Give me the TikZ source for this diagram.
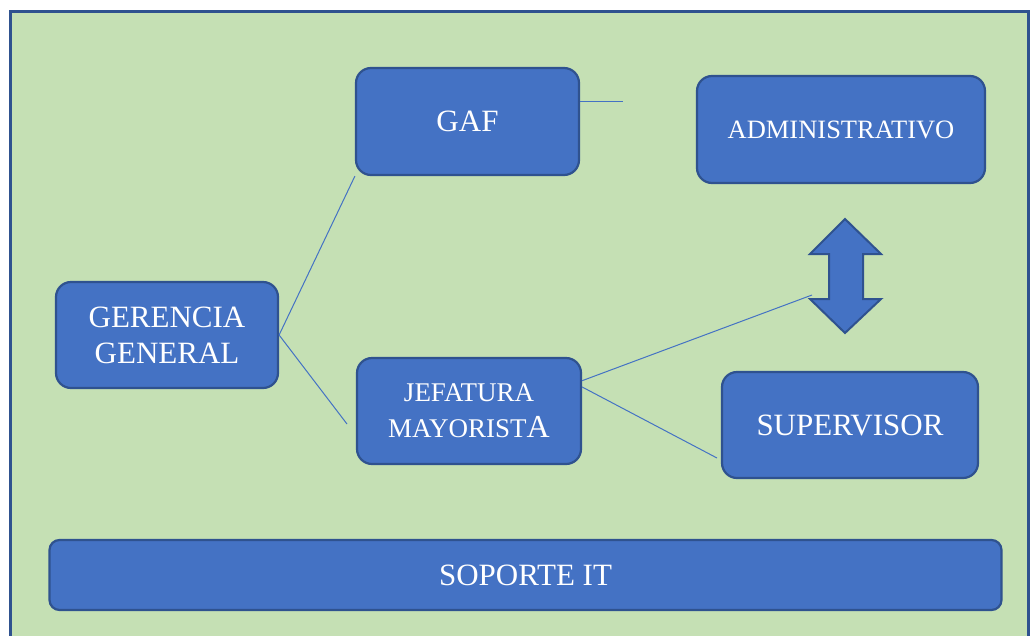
\documentclass[tikz,border=0pt]{standalone}
\usepackage{fontspec}
\setmainfont{Liberation Serif}
\definecolor{fondo}{HTML}{C5E0B4}
\definecolor{caja}{HTML}{4472C4}
\definecolor{borde}{HTML}{2F528F}
\tikzset{
	area/.style={draw=borde, fill=fondo, line width=3pt},
	cajaorg/.style={draw=borde, fill=caja, line width=2.2pt, rounded corners=15pt,
		text=white, align=center, inner sep=0pt},
	enlace/.style={draw=caja, line width=1pt},
}
\newcommand{\grande}{\fontsize{31}{36}\selectfont}
\newcommand{\medio}{\fontsize{27}{36}\selectfont}
\begin{document}
\begin{tikzpicture}[x=1pt,y=-1pt]
		\useasboundingbox (0,0) rectangle (1032,635);
		\clip (0,0) rectangle (1032,635);
		\fill[white] (0,0) rectangle (1032,635);
		\draw[area] (10,11) rectangle (1028,660);
		%% Cajas
		\node[cajaorg, minimum width=223pt, minimum height=107pt, font=\grande] (gaf) at (467.5,121.5) {GAF};
		\node[cajaorg, minimum width=288pt, minimum height=107pt, font=\fontsize{26.5}{30}\selectfont] (admin) at (841,129.5) {ADMINISTRATIVO};
		\node[cajaorg, minimum width=222pt, minimum height=106pt, font=\grande] (ger) at (167,335) {GERENCIA\\GENERAL};
		\node[cajaorg, minimum width=224pt, minimum height=106pt, font=\medio] (jef) at (469,411) {JEFATURA\\MAYORIST{\fontsize{32}{36}\selectfont A}};
		\node[cajaorg, minimum width=256pt, minimum height=106pt, font=\grande] (sup) at (850,425) {SUPERVISOR};
		\node[cajaorg, minimum width=952pt, minimum height=70pt, rounded corners=10pt, font=\grande] (it) at (525.5,575) {SOPORTE IT};
		%% Flecha doble
		\draw[borde, fill=caja, line width=2pt, line join=miter]
			(845,219) -- (881,254) -- (863,254) -- (863,299) -- (881,299) -- (845,333)
			-- (810,299) -- (829,299) -- (829,254) -- (810,254) -- cycle;
		%% Extremos libres
		\coordinate (gafend) at (623,101);
		\coordinate (gerend) at (347,424);
		\coordinate (flecha) at (812,295);
		\coordinate (supend) at (717,458);
		%% Lineas
		\draw[enlace] (gafend -| gaf.east) -- (gafend);
		\draw[enlace] (gaf.south west) -- (ger.east);
		\draw[enlace] (ger.east) -- (gerend);
		\draw[enlace] (jef.15) -- (flecha);
		\draw[enlace] (jef.12) -- (supend);
	\end{tikzpicture}
\end{document}
